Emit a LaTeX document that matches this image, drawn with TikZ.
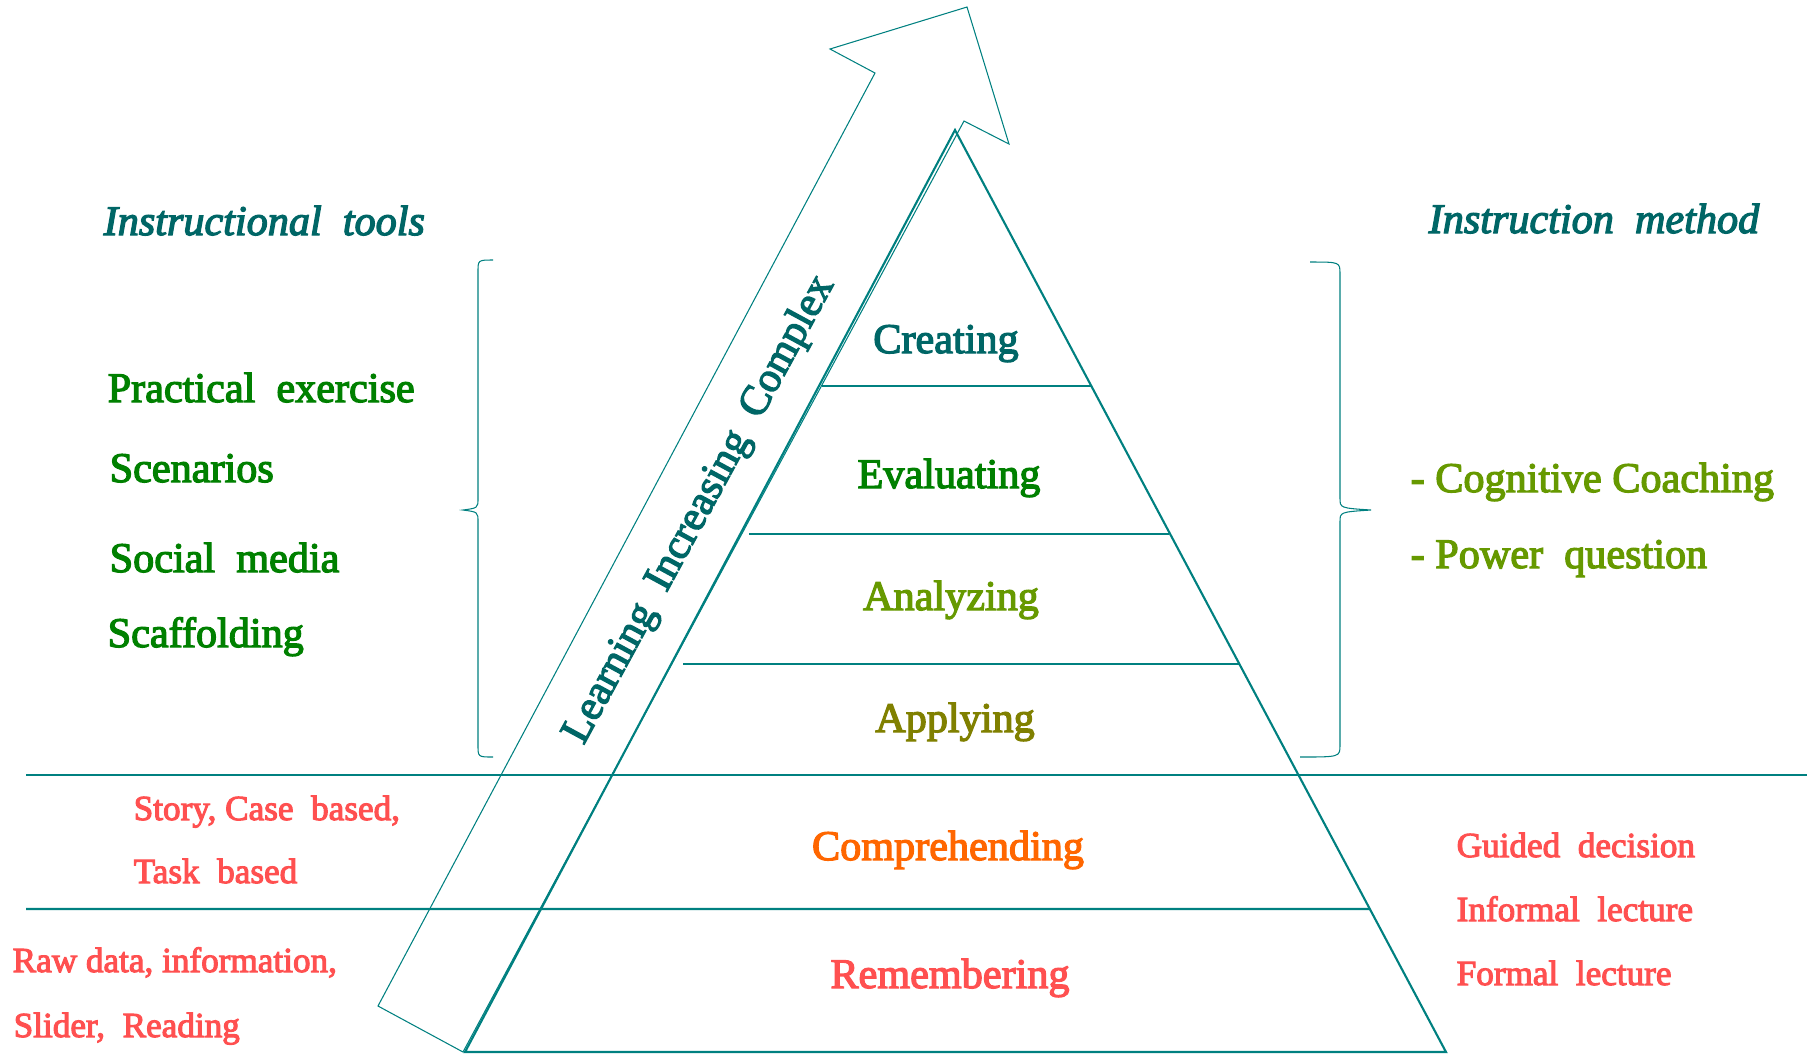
\documentclass[tikz,border=0pt]{standalone}
\usepackage{fontspec}
\usepackage{xcolor}
\usepackage{tikz}
\usetikzlibrary{positioning,calc}
\setmainfont{Liberation Serif}
\newfontfamily\figfont{Liberation Serif}[FakeBold=3]

\definecolor{tealline}{RGB}{0,128,128}
\definecolor{tealtext}{RGB}{0,102,102}
\definecolor{leafgreen}{RGB}{0,128,0}
\definecolor{olivegreen}{RGB}{102,153,0}
\definecolor{olivetext}{RGB}{128,128,0}
\definecolor{orangetext}{RGB}{255,102,0}
\definecolor{coral}{RGB}{255,80,80}

\tikzset{
  pyr/.style={draw=tealline, line width=0.6pt},
  thinline/.style={draw=tealline, line width=0.3pt},
  label/.style={font=\figfont\fontsize{12}{14}\selectfont, inner sep=0pt},
  side/.style={font=\figfont\fontsize{10}{12}\selectfont, inner sep=0pt, text=coral, anchor=base west},
  heading/.style={font=\figfont\itshape\fontsize{12}{14}\selectfont, inner sep=0pt, text=tealtext, anchor=base west}
}

\begin{document}
\begin{tikzpicture}[x=0.01cm, y=-0.01cm]
    \useasboundingbox (0,0) rectangle (1820,1053);

    % Corners of the pyramid
    \coordinate (apex) at (955,130);
    \coordinate (bl) at (465,1052);
    \coordinate (br) at (1446,1052);

    % Big arrow behind the pyramid
    \draw[thinline] (378,1006) -- (875,73) -- (830,49) -- (967,7)
        -- (1009,144) -- (964,121) -- (463,1052) -- cycle;

    % Pyramid and its levels
    \draw[pyr] (apex) -- (bl) -- (br) -- cycle;
    \foreach \yy/\xa/\xb in {386/822/1091, 534/749/1169, 664/683/1239}
        \draw[pyr] (\xa,\yy) -- (\xb,\yy);
    \draw[pyr] (26,775) -- (1807,775);
    \draw[pyr] (26,909) -- ($(apex)!{(909-130)/922}!(br)$);

    % Braces
    \draw[thinline] (493,260) .. controls (478,260) .. (478,272) -- (478,498)
        .. controls (478,508) .. (463,510) .. controls (478,512) .. (478,522)
        -- (478,745) .. controls (478,757) .. (493,757);
    \draw[thinline] (1310,262) .. controls (1340,262) .. (1340,274) -- (1340,498)
        .. controls (1340,508) .. (1371,510) .. controls (1340,512) .. (1340,522)
        -- (1340,745) .. controls (1340,757) .. (1300,757);

    % Level labels
    \node[label, text=tealtext, anchor=base] (creating) at (946,353) {Creating};
    \node[label, text=leafgreen, anchor=base] (evaluating) at (949,488) {Evaluating};
    \node[label, text=olivegreen, anchor=base] (analyzing) at (951,610) {Analyzing};
    \node[label, text=olivetext, anchor=base] (applying) at (955,732) {Applying};
    \node[label, text=orangetext, anchor=base] (comprehending) at (948,860) {Comprehending};
    \node[label, text=coral, anchor=base] (remembering) at (950,988) {Remembering};

    % Text along the arrow
    \node[label, text=tealtext, rotate=61.5] (learning) at (700,510) {Learning~~Increasing~~Complex};

    % Left column
    \node[heading] (toolshead) at (103,235) {Instructional~~tools};
    \node[label, text=leafgreen, anchor=base west] (practical) at (107,402) {Practical~~exercise};
    \node[label, text=leafgreen, anchor=base west] (scenarios) at (109,482) {Scenarios};
    \node[label, text=leafgreen, anchor=base west] (social) at (109,572) {Social~~media};
    \node[label, text=leafgreen, anchor=base west] (scaffold) at (107,647) {Scaffolding};

    % Right column
    \node[heading] (methodhead) at (1428,233) {Instruction~~method};
    \node[label, text=olivegreen, anchor=base west] (coaching) at (1410,492) {- Cognitive Coaching};
    \node[label, text=olivegreen, anchor=base west] (power) at (1410,568) {- Power~~question};

    % Lower levels, both sides
    \node[side] (story) at (133,820) {Story, Case~~based,};
    \node[side] (task) at (133,883) {Task~~based};
    \node[side] (rawdata) at (12,972) {Raw data, information,};
    \node[side] (slider) at (13,1037) {Slider,~~Reading};
    \node[side] (guided) at (1456,857) {Guided~~decision};
    \node[side] (informal) at (1456,921) {Informal~~lecture};
    \node[side] (formal) at (1456,985) {Formal~~lecture};
\end{tikzpicture}
\end{document}
